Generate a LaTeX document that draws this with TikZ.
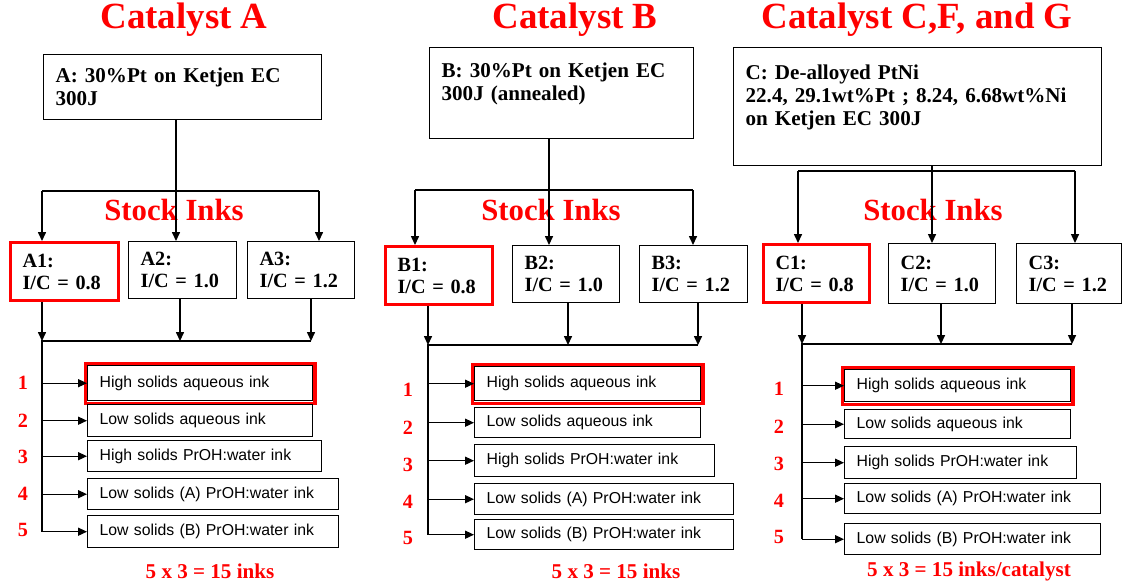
\documentclass[tikz,border=0pt]{standalone}
\usepackage{fontspec}
\setmainfont{Liberation Serif}
\setsansfont{Liberation Sans}
\usepackage{tikz}
\usetikzlibrary{arrows.meta,fit}

\begin{document}
\begin{tikzpicture}[x=0.02cm,y=-0.02cm,
  title/.style={text=red,font=\fontsize{21}{24}\selectfont\bfseries},
  stock/.style={text=red,font=\fontsize{17.5}{20}\selectfont\bfseries},
  total/.style={text=red,font=\fontsize{12}{14}\selectfont\bfseries},
  num/.style={text=red,font=\fontsize{11.5}{13}\selectfont\bfseries},
  catbox/.style={draw,line width=0.8pt,anchor=north west,align=left,inner xsep=6.8pt,inner ysep=0pt,
    font=\fontsize{12}{13}\selectfont\bfseries},
  icbox/.style={catbox,font=\fontsize{11.5}{12.5}\selectfont\bfseries},
  icred/.style={icbox,draw=red,line width=1.8pt},
  inkbox/.style={draw,line width=0.8pt,anchor=north west,align=left,inner xsep=6.8pt,inner ysep=0pt,
    font=\sffamily\fontsize{9}{11}\selectfont},
  inkred/.style={draw=red,line width=1.8pt,inner sep=1pt},
  wire/.style={line width=0.7pt},
  arr/.style={wire,-{Triangle[length=5pt,width=4.5pt]}}]
\useasboundingbox (0,0) rectangle (1124,584);

\node[title] (titleA) at (184,20) {Catalyst A};
\node[catbox,text width=5.08cm,minimum height=1.30cm] (catA) at (43,54) {A: 30\%Pt on Ketjen EC\\300J};
\node[stock] (stockA) at (174,210) {Stock Inks};
\node[icred,text width=1.68cm,minimum height=1.16cm] (A1) at (9,241) {A1:\\I/C = 0.8};
\node[icbox,text width=1.68cm,minimum height=1.14cm] (A2) at (128,241) {A2:\\I/C = 1.0};
\node[icbox,text width=1.66cm,minimum height=1.14cm] (A3) at (247,241) {A3:\\I/C = 1.2};
\node[inkbox,text width=4.02cm,minimum height=0.70cm] (iA1) at (87,365) {High solids aqueous ink};
\node[inkred,fit=(iA1)] (rA1) {};
\node[inkbox,text width=4.02cm,minimum height=0.64cm] (iA2) at (87,404) {Low solids aqueous ink};
\node[inkbox,text width=4.20cm,minimum height=0.62cm] (iA3) at (87,440) {High solids PrOH:water ink};
\node[inkbox,text width=4.54cm,minimum height=0.62cm] (iA4) at (87,478) {Low solids (A) PrOH:water ink};
\node[inkbox,text width=4.54cm,minimum height=0.64cm] (iA5) at (87,515) {Low solids (B) PrOH:water ink};
\foreach \i/\y in {1/383,2/421,3/457,4/494,5/530}
  \node[num] (nA\i) at (23,\y) {\i};
\node[total] (totA) at (210,571) {5 x 3 = 15 inks};
\coordinate (dropA) at (176,191);
\coordinate (busAl) at (42,191);
\coordinate (busAr) at (319,191);
\draw[wire] (busAl) -- (busAr);
\draw[arr] (catA.south -| dropA) -- (dropA |- A2.north);
\draw[arr] (busAl) -- (busAl |- A1.north);
\draw[arr] (busAr) -- (busAr |- A3.north);
\coordinate (lowAl) at (42,341);
\coordinate (lowAm) at (180,341);
\coordinate (lowAr) at (311,341);
\draw[arr] (A1.south -| lowAl) -- (lowAl);
\draw[arr] (A2.south -| lowAm) -- (lowAm);
\draw[arr] (A3.south -| lowAr) -- (lowAr);
\draw[wire] (lowAr) -- (lowAl) -- (lowAl |- iA5.west);
\foreach \i in {1,...,5}
  \draw[arr] (lowAl |- iA\i.west) -- (iA\i.west);

\node[title] (titleB) at (575,20) {Catalyst B};
\node[catbox,text width=4.80cm,minimum height=1.82cm] (catB) at (429,47) {B: 30\%Pt on Ketjen EC\\300J (annealed)\\~};
\node[stock] (stockB) at (551,210) {Stock Inks};
\node[icred,text width=1.66cm,minimum height=1.16cm] (B1) at (384,245) {B1:\\I/C = 0.8};
\node[icbox,text width=1.66cm,minimum height=1.14cm] (B2) at (512,245) {B2:\\I/C = 1.0};
\node[icbox,text width=1.68cm,minimum height=1.14cm] (B3) at (639,245) {B3:\\I/C = 1.2};
\node[inkbox,text width=4.04cm,minimum height=0.68cm] (iB1) at (474,366) {High solids aqueous ink};
\node[inkred,fit=(iB1)] (rB1) {};
\node[inkbox,text width=4.04cm,minimum height=0.60cm] (iB2) at (474,407) {Low solids aqueous ink};
\node[inkbox,text width=4.32cm,minimum height=0.64cm] (iB3) at (474,444) {High solids PrOH:water ink};
\node[inkbox,text width=4.70cm,minimum height=0.62cm] (iB4) at (474,483) {Low solids (A) PrOH:water ink};
\node[inkbox,text width=4.70cm,minimum height=0.60cm] (iB5) at (474,519) {Low solids (B) PrOH:water ink};
\foreach \i/\y in {1/390,2/428,3/465,4/502,5/538}
  \node[num] (nB\i) at (408,\y) {\i};
\node[total] (totB) at (616,571) {5 x 3 = 15 inks};
\coordinate (dropB) at (549,190);
\coordinate (busBl) at (415,190);
\coordinate (busBr) at (693,190);
\draw[wire] (busBl) -- (busBr);
\draw[arr] (catB.south -| dropB) -- (dropB |- B2.north);
\draw[arr] (busBl) -- (busBl |- B1.north);
\draw[arr] (busBr) -- (busBr |- B3.north);
\coordinate (lowBl) at (428,345);
\coordinate (lowBm) at (568,345);
\coordinate (lowBr) at (698,345);
\draw[arr] (B1.south -| lowBl) -- (lowBl);
\draw[arr] (B2.south -| lowBm) -- (lowBm);
\draw[arr] (B3.south -| lowBr) -- (lowBr);
\draw[wire] (lowBr) -- (lowBl) -- (lowBl |- iB5.west);
\foreach \i in {1,...,5}
  \draw[arr] (lowBl |- iB\i.west) -- (iB\i.west);

\node[title] (titleC) at (917,20) {Catalyst C,F, and G};
\node[catbox,text width=6.88cm,minimum height=2.36cm] (catC) at (733,47) {C: De-alloyed PtNi\\22.4, 29.1wt\%Pt ; 8.24, 6.68wt\%Ni\\on Ketjen EC 300J\\~};
\node[stock] (stockC) at (933,210) {Stock Inks};
\node[icred,text width=1.64cm,minimum height=1.16cm] (C1) at (762,243) {C1:\\I/C = 0.8};
\node[icbox,text width=1.66cm,minimum height=1.20cm] (C2) at (888,243) {C2:\\I/C = 1.0};
\node[icbox,text width=1.62cm,minimum height=1.20cm] (C3) at (1016,243) {C3:\\I/C = 1.2};
\node[inkbox,text width=4.04cm,minimum height=0.64cm] (iC1) at (844,369) {High solids aqueous ink};
\node[inkred,fit=(iC1)] (rC1) {};
\node[inkbox,text width=4.04cm,minimum height=0.58cm] (iC2) at (844,409) {Low solids aqueous ink};
\node[inkbox,text width=4.16cm,minimum height=0.64cm] (iC3) at (844,446) {High solids PrOH:water ink};
\node[inkbox,text width=4.64cm,minimum height=0.60cm] (iC4) at (844,483) {Low solids (A) PrOH:water ink};
\node[inkbox,text width=4.64cm,minimum height=0.62cm] (iC5) at (844,523) {Low solids (B) PrOH:water ink};
\foreach \i/\y in {1/389,2/427,3/464,4/501,5/537}
  \node[num] (nC\i) at (779,\y) {\i};
\node[total] (totC) at (969,571) {5 x 3 = 15 inks/catalyst};
\coordinate (dropC) at (932,171);
\coordinate (busCl) at (798,171);
\coordinate (busCr) at (1075,171);
\draw[wire] (busCl) -- (busCr);
\draw[arr] (catC.south -| dropC) -- (dropC |- C2.north);
\draw[arr] (busCl) -- (busCl |- C1.north);
\draw[arr] (busCr) -- (busCr |- C3.north);
\coordinate (lowCl) at (802,344);
\coordinate (lowCm) at (941,344);
\coordinate (lowCr) at (1072,344);
\draw[arr] (C1.south -| lowCl) -- (lowCl);
\draw[arr] (C2.south -| lowCm) -- (lowCm);
\draw[arr] (C3.south -| lowCr) -- (lowCr);
\draw[wire] (lowCr) -- (lowCl) -- (lowCl |- iC5.west);
\foreach \i in {1,...,5}
  \draw[arr] (lowCl |- iC\i.west) -- (iC\i.west);
\end{tikzpicture}
\end{document}
